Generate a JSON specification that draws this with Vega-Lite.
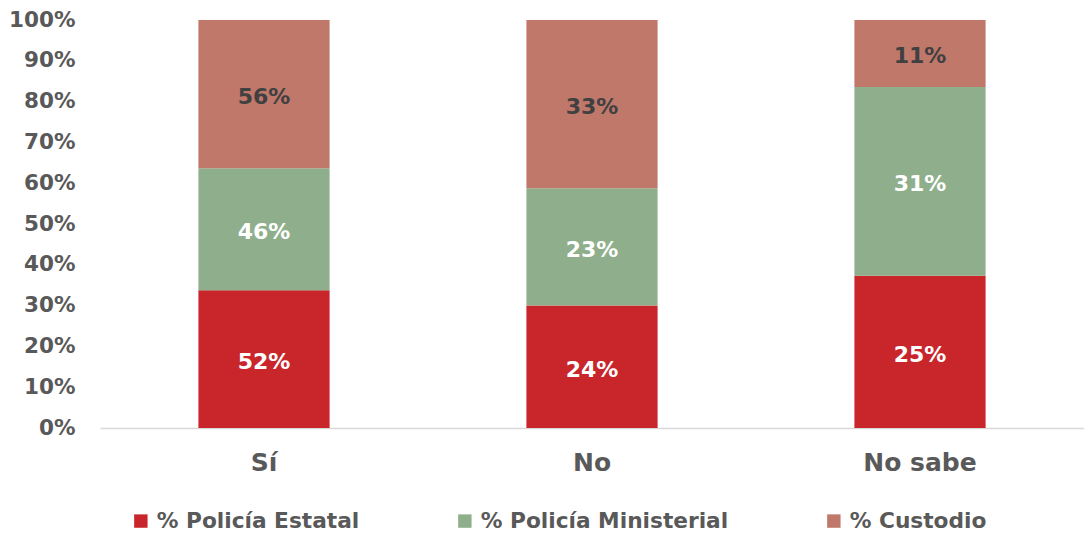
{
  "$schema": "https://vega.github.io/schema/vega-lite/v6.json",
  "autosize": {"type": "none"},
  "padding": {"left": 100, "top": 20, "right": 0, "bottom": 107},
  "width": 984,
  "height": 408,
  "background": "white",
  "config": {"view": {"stroke": null}, "font": "DejaVu Sans"},
  "data": {"values": [
    {"respuesta": "Sí", "serie": "% Policía Estatal", "orden": 1, "valor": 52, "etiqueta": "52%"},
    {"respuesta": "Sí", "serie": "% Policía Ministerial", "orden": 2, "valor": 46, "etiqueta": "46%"},
    {"respuesta": "Sí", "serie": "% Custodio", "orden": 3, "valor": 56, "etiqueta": "56%"},
    {"respuesta": "No", "serie": "% Policía Estatal", "orden": 1, "valor": 24, "etiqueta": "24%"},
    {"respuesta": "No", "serie": "% Policía Ministerial", "orden": 2, "valor": 23, "etiqueta": "23%"},
    {"respuesta": "No", "serie": "% Custodio", "orden": 3, "valor": 33, "etiqueta": "33%"},
    {"respuesta": "No sabe", "serie": "% Policía Estatal", "orden": 1, "valor": 25, "etiqueta": "25%"},
    {"respuesta": "No sabe", "serie": "% Policía Ministerial", "orden": 2, "valor": 31, "etiqueta": "31%"},
    {"respuesta": "No sabe", "serie": "% Custodio", "orden": 3, "valor": 11, "etiqueta": "11%"}
  ]},
  "transform": [
    {"stack": "valor", "groupby": ["respuesta"], "sort": [{"field": "orden", "order": "ascending"}], "offset": "normalize", "as": ["y0", "y1"]},
    {"calculate": "(datum.y0 + datum.y1) / 2", "as": "ymid"}
  ],
  "encoding": {
    "x": {"field": "respuesta", "type": "nominal", "sort": ["Sí", "No", "No sabe"],
      "scale": {"paddingInner": 0.6, "paddingOuter": 0.3},
      "axis": {"title": null, "labelAngle": 0, "labelFontSize": 25, "labelFontWeight": "bold", "labelColor": "#595959", "labelPadding": 22, "ticks": false, "domainColor": "#d9d9d9", "domainWidth": 1.5}}
  },
  "layer": [
    {
      "mark": {"type": "bar"},
      "encoding": {
        "y": {"field": "y0", "type": "quantitative", "scale": {"domain": [0, 1]},
          "axis": {"title": null, "format": "%", "values": [0, 0.1, 0.2, 0.3, 0.4, 0.5, 0.6, 0.7, 0.8, 0.9, 1], "grid": false, "domain": false, "ticks": false, "labelFontSize": 21.5, "labelFontWeight": "bold", "labelColor": "#595959", "labelPadding": 25}},
        "y2": {"field": "y1"},
        "color": {"field": "serie", "type": "nominal",
          "scale": {"domain": ["% Policía Estatal", "% Policía Ministerial", "% Custodio"], "range": ["#C9262C", "#8FAF8C", "#C0786B"]},
          "legend": {"title": null, "orient": "none", "legendX": 30, "legendY": 490, "direction": "horizontal", "symbolType": "square", "symbolSize": 180, "symbolStrokeWidth": 0, "labelFontSize": 21.7, "labelFontWeight": "bold", "labelColor": "#595959", "labelOffset": 5, "columnPadding": 94, "labelLimit": 400}},
        "order": {"field": "orden"}
      }
    },
    {
      "mark": {"type": "text", "fontSize": 22, "fontWeight": "bold", "baseline": "middle", "dy": 3},
      "encoding": {
        "y": {"field": "ymid", "type": "quantitative"},
        "text": {"field": "etiqueta", "type": "nominal"},
        "color": {"condition": {"test": "datum.serie === '% Custodio'", "value": "#404040"}, "value": "white"}
      }
    }
  ]
}
